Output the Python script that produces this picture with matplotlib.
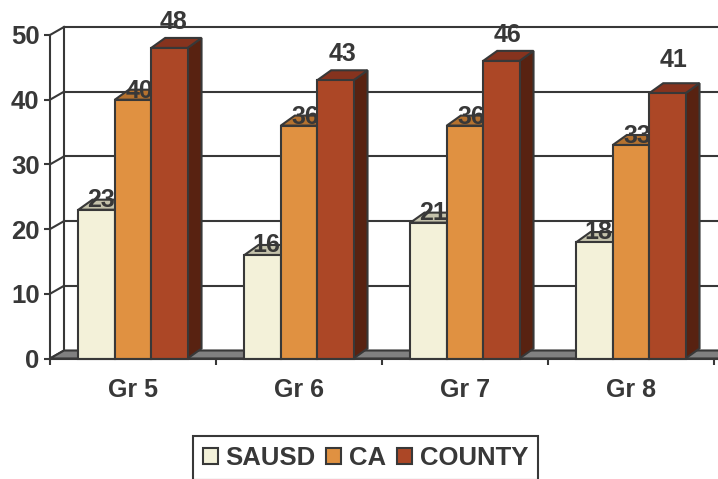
import matplotlib
matplotlib.use("Agg")
import matplotlib.pyplot as plt
from matplotlib.patches import Patch, Polygon

plt.rcParams['font.family'] = ['Liberation Sans', 'DejaVu Sans']
plt.rcParams['font.weight'] = 'bold'

# Scores per grade
grades = ['Gr 5', 'Gr 6', 'Gr 7', 'Gr 8']
series_names = ['SAUSD', 'CA', 'COUNTY']
sausd = [23, 16, 21, 18]
ca = [40, 36, 36, 33]
county = [48, 43, 46, 41]
y_ticks = [0, 10, 20, 30, 40, 50]

ink = '#383838'
front_colors = ['#f3f1d9', '#e09141', '#ac4726']
top_colors = ['#c4c2ab', '#b5722f', '#86331e']
side_colors = ['#a09e8a', '#8a5524', '#582211']

# label shift in pixels, one row per series
label_dx = [[4, 4, 4, 4], [6, 6, 6, 6], [4, 7, 6, 6]]
label_dy = [[10, 10, 10, 10], [9, 9, 9, 9], [26, 26, 26, 33]]

W, H = 718, 479
fig = plt.figure(figsize=(W / 100, H / 100), dpi=100)
left, right, y0, y50 = 50, 718, 358.5, 35
ax = fig.add_axes([left / W, 1 - y0 / H, (right - left) / W, (y0 - y50) / H])

# one category is 166 px wide, one score unit 6.47 px tall
px_x = 1 / 166
px_y = 50 / (y0 - y50)
x_max = (right - left) * px_x
ax.set_xlim(0, x_max)
ax.set_ylim(0, 50)

wall_dx, wall_dy = 14 * px_x, 8 * px_y
bar_dx, bar_dy = 14 * px_x, 10 * px_y
lw = 1.5

# floor and back wall
ax.add_patch(Polygon([(0, 0), (wall_dx, wall_dy), (x_max + 1, wall_dy), (x_max + 1, 0)],
                     facecolor='#808080', edgecolor=ink, lw=lw, zorder=1.5, clip_on=False))
for v in y_ticks:
    ax.plot([wall_dx, x_max + 1], [v + wall_dy, v + wall_dy], color=ink, lw=lw, zorder=1, clip_on=False)
    ax.plot([0, wall_dx], [v, v + wall_dy], color=ink, lw=lw, zorder=1, clip_on=False)
ax.plot([wall_dx, wall_dx], [wall_dy, 50 + wall_dy], color=ink, lw=lw, zorder=1, clip_on=False)

# 3d bars, drawn left to right so each one covers the previous label
width = 0.219
for i, g in enumerate(grades):
    for j, values in enumerate([sausd, ca, county]):
        v = values[i]
        x = i + 0.5 + (j - 1) * width
        x1 = x - width / 2
        x2 = x + width / 2
        z = 3 + i * 3 + j * 0.3
        ax.add_patch(Polygon([(x2, 0), (x2 + bar_dx, bar_dy), (x2 + bar_dx, v + bar_dy), (x2, v)],
                             facecolor=side_colors[j], edgecolor=ink, lw=lw, zorder=z, clip_on=False))
        ax.add_patch(Polygon([(x1, v), (x1 + bar_dx, v + bar_dy), (x2 + bar_dx, v + bar_dy), (x2, v)],
                             facecolor=top_colors[j], edgecolor=ink, lw=lw, zorder=z, clip_on=False))
        ax.bar(x, v, width, color=front_colors[j], edgecolor=ink, lw=lw, zorder=z + 0.1, clip_on=False)
        ax.annotate(str(v), (x, v), xytext=(label_dx[j][i], label_dy[j][i]), textcoords='offset pixels',
                    ha='center', va='center', fontsize=18, color=ink, zorder=z + 0.2, annotation_clip=False)

# axes
for s in ['top', 'right']:
    ax.spines[s].set_visible(False)
for s in ['left', 'bottom']:
    ax.spines[s].set_color(ink)
    ax.spines[s].set_linewidth(lw)
    ax.spines[s].set_zorder(20)
ax.patch.set_alpha(0)
ax.set_yticks(y_ticks)
ax.set_xticks(range(5))
ax.set_xticklabels([])
ax.set_xticks([i + 0.5 for i in range(4)], grades, minor=True)
ax.tick_params(axis='both', which='major', length=4, width=lw, color=ink, labelcolor=ink, labelsize=18.5, pad=3.5)
ax.tick_params(axis='x', which='minor', length=0, labelcolor=ink, labelsize=18, pad=14)

handles = [Patch(facecolor=c, edgecolor=ink, lw=lw) for c in front_colors]
leg = fig.legend(handles, series_names, ncol=3, loc='upper left', bbox_to_anchor=(193 / W, 1 - 436 / H),
                 borderaxespad=0, fontsize=18.5, frameon=True, fancybox=False, edgecolor=ink, framealpha=1,
                 handlelength=0.58, handleheight=0.58, handletextpad=0.3, columnspacing=0.42,
                 borderpad=0.38, labelcolor=ink)
leg.get_frame().set_linewidth(lw)

fig.savefig('out.png', dpi=100)
